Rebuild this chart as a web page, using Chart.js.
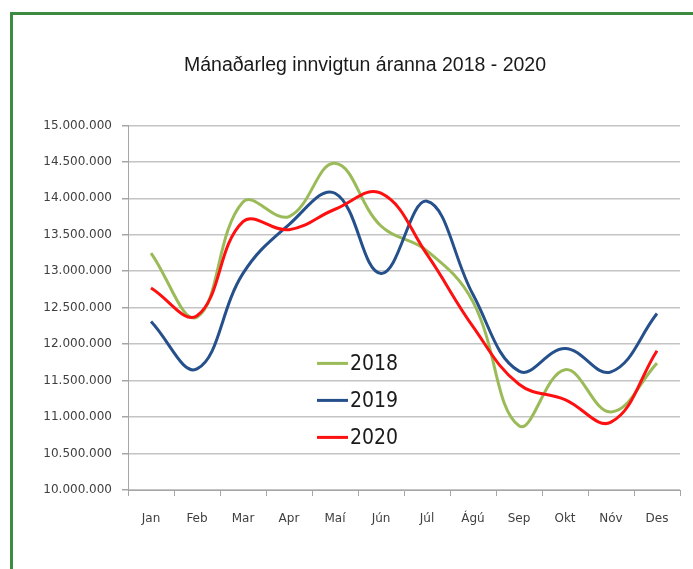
<!DOCTYPE html>
<html lang="is">
<head>
  <meta charset="UTF-8" />
  <title>Mánaðarleg innvigtun</title>
  <script src="https://cdn.jsdelivr.net/npm/chart.js"></script>
  <style>
    html, body {
      margin: 0;
      padding: 0;
      background: #fff;
      overflow: hidden;
      width: 693px;
      height: 569px;
    }
    #frame {
      position: absolute;
      left: 10px;
      top: 12px;
      width: 800px;
      height: 700px;
      border: 3px solid #3d8b40;
    }
    #wrap {
      position: absolute;
      left: 0;
      top: 0;
      width: 730px;
      height: 569px;
    }
  </style>
</head>
<body>
  <div id="frame"></div>
  <div id="wrap"><canvas id="milkChart"></canvas></div>

  <script>
    const months = ['Jan', 'Feb', 'Mar', 'Apr', 'Maí', 'Jún', 'Júl', 'Ágú', 'Sep', 'Okt', 'Nóv', 'Des'];

    const y2018 = [13250000, 12370000, 13950000, 13750000, 14480000, 13620000, 13280000, 12580000, 10880000, 11650000, 11070000, 11740000];
    const y2019 = [12310000, 11660000, 12970000, 13640000, 14070000, 12970000, 13960000, 12680000, 11630000, 11940000, 11620000, 12420000];
    const y2020 = [12770000, 12390000, 13680000, 13570000, 13850000, 14070000, 13230000, 12240000, 11450000, 11240000, 10930000, 11910000];

    const fmt = v => String(Math.round(v)).replace(/\B(?=(\d{3})+(?!\d))/g, '.');

    // legend drawn inside the plot, like the excel original
    const insideLegend = {
      id: 'insideLegend',
      afterDatasetsDraw(chart) {
        const ctx = chart.ctx;
        const ca = chart.chartArea;
        ctx.save();
        ctx.font = '21px "DejaVu Sans Condensed", "Liberation Sans", sans-serif';
        ctx.textBaseline = 'middle';
        ctx.fillStyle = '#1a1a1a';
        chart.data.datasets.forEach((ds, i) => {
          const y = ca.top + 238 + i * 37;
          const x = ca.left + 189;
          ctx.strokeStyle = ds.borderColor;
          ctx.lineWidth = 3;
          ctx.beginPath();
          ctx.moveTo(x, y);
          ctx.lineTo(x + 31, y);
          ctx.stroke();
          ctx.fillText(ds.label, x + 33, y + 1);
        });
        ctx.restore();
      }
    };

    const ctx = document.getElementById('milkChart').getContext('2d');
    new Chart(ctx, {
      type: 'line',
      data: {
        labels: months,
        datasets: [
          { label: '2018', data: y2018, borderColor: '#9bbb59', order: 2 },
          { label: '2019', data: y2019, borderColor: '#25508c', order: 1 },
          { label: '2020', data: y2020, borderColor: '#ff1010', order: 0 }
        ]
      },
      options: {
        responsive: true,
        maintainAspectRatio: false,
        animation: false,
        layout: { padding: 0 },
        elements: {
          point: { radius: 0 },
          line: { borderWidth: 3, tension: 0.4, fill: false }
        },
        plugins: {
          legend: { display: false },
          tooltip: { enabled: false },
          title: {
            display: true,
            text: 'Mánaðarleg innvigtun áranna 2018 - 2020',
            color: '#1a1a1a',
            font: { family: '"Liberation Sans", sans-serif', size: 19.5, weight: 'normal' },
            padding: { top: 54, bottom: 48 }
          }
        },
        scales: {
          x: {
            offset: true,
            afterFit(s) { s.height = 79; },
            grid: { offset: true, drawOnChartArea: false, tickLength: 6, color: '#a6a6a6' },
            border: { color: '#a6a6a6', width: 1 },
            ticks: {
              maxRotation: 0,
              padding: 16,
              color: '#404040',
              font: { family: '"DejaVu Sans", sans-serif', size: 12 }
            }
          },
          y: {
            min: 10000000,
            max: 15000000,
            afterFit(s) { s.width = 128; },
            grid: { color: '#c4c4c4', lineWidth: 1.5, tickLength: 6, tickColor: '#a6a6a6' },
            border: { color: '#a6a6a6', width: 1 },
            ticks: {
              stepSize: 500000,
              padding: 10,
              color: '#404040',
              font: { family: '"DejaVu Sans", sans-serif', size: 12 },
              callback: v => fmt(v)
            }
          },
          // empty right-hand spacer so the plot stops short of the canvas edge
          spacer: {
            type: 'linear',
            position: 'right',
            afterFit(s) { s.width = 50; },
            grid: { display: false },
            border: { display: false },
            ticks: { display: false }
          }
        }
      },
      plugins: [insideLegend]
    });
  </script>
</body>
</html>
